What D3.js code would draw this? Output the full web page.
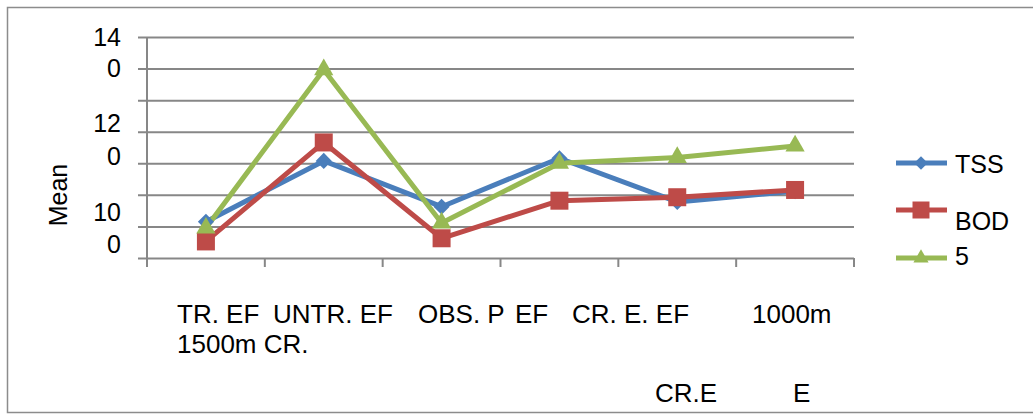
<!DOCTYPE html>
<html>
<head>
<meta charset="utf-8">
<script src="https://cdn.jsdelivr.net/npm/d3@7"></script>
<style>
  html, body { margin: 0; padding: 0; background: #fff; }
  svg { display: block; }
  text { font-family: "Liberation Sans", Arial, sans-serif; fill: #000; }
</style>
</head>
<body>
<script>
// ---------- data ----------
const categories = ["TR. EF 1500m", "UNTR. EF", "OBS. P EF", "CR. E. EF", "CR.E 1000m", "E"];
const seriesNames = ["TSS", "BOD", "5"];
const tssValues = [23.0, 61.5, 32.5, 63.2, 35.5, 42.4];
const bodValues = [10.5, 73.2, 12.5, 36.3, 38.5, 43.1];
const fiveValues = [19.0, 119.3, 22.2, 60.0, 63.7, 71.0];
const gridValues = [0, 20, 40, 60, 80, 100, 120, 140];
// y tick label pieces (text, axis-unit position) as they appear in the picture
const yLabelTexts = ["14", "0", "12", "0", "10", "0"];
const yLabelPos = [140, 120.4, 85.5, 64.6, 29.1, 8.9];
// x label pieces as they appear (wrapped text)
const xLabelTexts = ["TR. EF", "UNTR. EF", "OBS. P", "EF", "CR. E. EF", "1000m", "1500m CR.", "CR.E", "E"];

// ---------- layout ----------
const W = 1033, H = 414;
const margin = { left: 147, right: 854, top: 37, bottom: 258 };
const colors = ["#4a7ebb", "#be4b48", "#98b954"];

const svg = d3.select("body").append("svg").attr("width", W).attr("height", H);

// outer border
svg.append("rect").attr("x", 7.5).attr("y", 7.5).attr("width", W + 10).attr("height", 405)
  .attr("fill", "none").attr("stroke", "#8c8c8c").attr("stroke-width", 1.5);

const x = d3.scaleBand().domain(categories).range([margin.left, margin.right]).padding(0);
const y = d3.scaleLinear().domain([0, 140]).range([margin.bottom, margin.top]);

// gridlines + left ticks
const gridAxis = d3.axisLeft(y).tickValues(gridValues)
  .tickSize(-(margin.right - margin.left)).tickSizeOuter(0).tickFormat("");
const gg = svg.append("g").attr("transform", `translate(${margin.left},0)`).call(gridAxis);
gg.select(".domain").remove();
gg.selectAll(".tick line").attr("stroke", "#878787").attr("stroke-width", 2)
  .attr("x1", -9).attr("x2", margin.right - margin.left);

// left axis line
svg.append("line").attr("x1", margin.left).attr("x2", margin.left)
  .attr("y1", y(140)).attr("y2", margin.bottom + 9)
  .attr("stroke", "#878787").attr("stroke-width", 2);

// bottom ticks at band boundaries
const boundaries = categories.map(c => x(c)).concat([margin.right]);
svg.append("g").selectAll("line").data(boundaries).join("line")
  .attr("x1", d => d).attr("x2", d => d)
  .attr("y1", margin.bottom).attr("y2", margin.bottom + 9)
  .attr("stroke", "#878787").attr("stroke-width", 2);

// y labels
svg.append("g").selectAll("text").data(yLabelTexts).join("text")
  .attr("x", 121).attr("y", (d, i) => y(yLabelPos[i]))
  .attr("dy", "0.36em").attr("text-anchor", "end").attr("font-size", 25)
  .text(d => d);

// y title
svg.append("text").attr("transform", "translate(58,195) rotate(-90)")
  .attr("text-anchor", "middle").attr("dy", "0.36em").attr("font-size", 25).text("Mean");

// x labels (positions of the wrapped pieces)
const xLabelX = [177, 273, 418, 515, 572, 752, 177, 655, 793];
const xLabelY = [323, 323, 323, 323, 323, 323, 353, 402, 402];
svg.append("g").selectAll("text").data(xLabelTexts).join("text")
  .attr("x", (d, i) => xLabelX[i]).attr("y", (d, i) => xLabelY[i])
  .attr("font-size", 26).text(d => d);

// series
const seriesData = [tssValues, bodValues, fiveValues];
const line = d3.line().x((d, i) => x(categories[i]) + x.bandwidth() / 2).y(d => y(d));
const symbols = [
  d3.symbol().type(d3.symbolSquare).size(130),
  d3.symbol().type(d3.symbolSquare).size(324),
  d3.symbol().type(d3.symbolTriangle).size(160)
];
const rot = [45, 0, 0];

seriesData.forEach((vals, s) => {
  svg.append("path").datum(vals).attr("d", line)
    .attr("fill", "none").attr("stroke", colors[s]).attr("stroke-width", 5)
    .attr("stroke-linejoin", "round");
});
seriesData.forEach((vals, s) => {
  svg.append("g").selectAll("path").data(vals).join("path")
    .attr("d", symbols[s])
    .attr("transform", (d, i) => `translate(${x(categories[i]) + x.bandwidth() / 2},${y(d)}) rotate(${rot[s]})`)
    .attr("fill", colors[s]);
});

// legend
const legY = [163, 210, 258];
const legTextY = [173, 230, 265];
const leg = svg.append("g");
seriesNames.forEach((name, s) => {
  leg.append("line").attr("x1", 896).attr("x2", 947).attr("y1", legY[s]).attr("y2", legY[s])
    .attr("stroke", colors[s]).attr("stroke-width", 5);
  const legSym = [
    d3.symbol().type(d3.symbolSquare).size(90),
    d3.symbol().type(d3.symbolSquare).size(289),
    d3.symbol().type(d3.symbolTriangle).size(100)
  ][s];
  leg.append("path").attr("d", legSym)
    .attr("transform", `translate(921,${legY[s]}) rotate(${rot[s]})`)
    .attr("fill", colors[s]);
  leg.append("text").attr("x", 955).attr("y", legTextY[s]).attr("font-size", 25).text(name);
});
</script>
</body>
</html>
